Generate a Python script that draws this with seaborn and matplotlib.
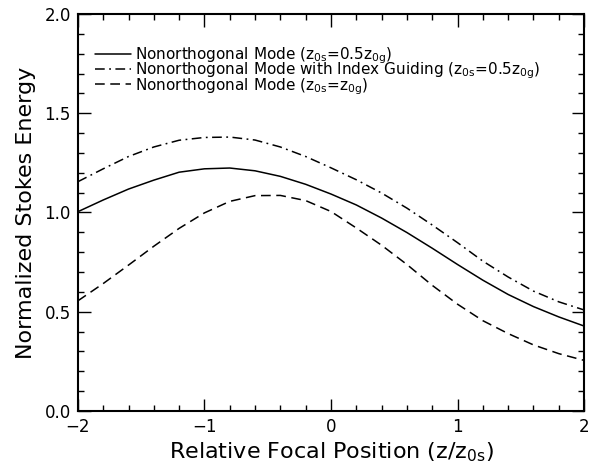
import numpy as np
import pandas as pd
import matplotlib
matplotlib.use("Agg")
import matplotlib.pyplot as plt
import seaborn as sns
from matplotlib.ticker import MultipleLocator

# ---- data ----
z_pos = [-2.0, -1.8, -1.6, -1.4, -1.2, -1.0, -0.8, -0.6, -0.4, -0.2, 0.0,
         0.2, 0.4, 0.6, 0.8, 1.0, 1.2, 1.4, 1.6, 1.8, 2.0]
energy_nonortho = [1.004, 1.063, 1.118, 1.163, 1.203, 1.220, 1.224, 1.210, 1.182, 1.142, 1.093,
                   1.038, 0.972, 0.899, 0.820, 0.738, 0.659, 0.587, 0.526, 0.474, 0.428]
energy_index_guiding = [1.155, 1.220, 1.282, 1.330, 1.364, 1.378, 1.380, 1.365, 1.330, 1.282, 1.225,
                        1.165, 1.098, 1.022, 0.937, 0.848, 0.755, 0.675, 0.604, 0.550, 0.509]
energy_equal_waist = [0.555, 0.642, 0.735, 0.830, 0.920, 0.998, 1.056, 1.085, 1.086, 1.060, 1.005,
                      0.922, 0.835, 0.738, 0.633, 0.538, 0.455, 0.390, 0.333, 0.289, 0.255]

labels = [
    r"Nonorthogonal Mode (z$_{0s}$=0.5z$_{0g}$)",
    r"Nonorthogonal Mode with Index Guiding (z$_{0s}$=0.5z$_{0g}$)",
    r"Nonorthogonal Mode (z$_{0s}$=z$_{0g}$)",
]
x_ticks = [-2, -1, 0, 1, 2]
x_ticklabels = ["\u22122", "\u22121", "0", "1", "2"]
y_ticks = [0.0, 0.5, 1.0, 1.5, 2.0]
y_ticklabels = ["0.0", "0.5", "1.0", "1.5", "2.0"]

sns.set_theme(style="ticks")
plt.rcParams["font.family"] = ["DejaVu Sans"]
plt.rcParams["mathtext.default"] = "regular"
plt.rcParams["lines.scale_dashes"] = False
plt.rcParams["text.color"] = "black"
plt.rcParams["axes.labelcolor"] = "black"

fig = plt.figure(figsize=(5.9, 4.66), dpi=100)
ax = fig.add_axes([0.132, 0.118, 0.858, 0.852])

styles = ["-", (0, (7, 3.2, 1.3, 3.2)), (0, (7, 4))]
series = [energy_nonortho, energy_index_guiding, energy_equal_waist]
for vals, lab, ls in zip(series, labels, styles):
    df = pd.DataFrame({"z": z_pos, "E": vals})
    sns.lineplot(data=df, x="z", y="E", ax=ax, color="black", linewidth=1.1,
                 linestyle=ls, label=lab)

ax.set_xlim(-2, 2)
ax.set_ylim(0, 2)
ax.set_xticks(x_ticks)
ax.set_xticklabels(x_ticklabels)
ax.set_yticks(y_ticks)
ax.set_yticklabels(y_ticklabels)
ax.xaxis.set_minor_locator(MultipleLocator(0.2))
ax.yaxis.set_minor_locator(MultipleLocator(0.1))
ax.tick_params(which="both", direction="in", top=True, right=True, colors="black",
               labelsize=12, width=1.0)
ax.tick_params(which="major", length=9, pad=5)
ax.tick_params(which="minor", length=4.5)
for s in ax.spines.values():
    s.set_linewidth(1.5)
    s.set_color("black")

ax.set_xlabel(r"Relative Focal Position (z/z$_{0s}$)", fontsize=16, labelpad=3)
ax.set_ylabel("Normalized Stokes Energy", fontsize=16, labelpad=6)

leg = ax.legend(loc="upper left", bbox_to_anchor=(0.033, 0.92), frameon=False,
                fontsize=11, handlelength=2.4, handletextpad=0.25,
                labelspacing=-0.36, borderpad=0, borderaxespad=0)

fig.savefig("out.png", dpi=100)
